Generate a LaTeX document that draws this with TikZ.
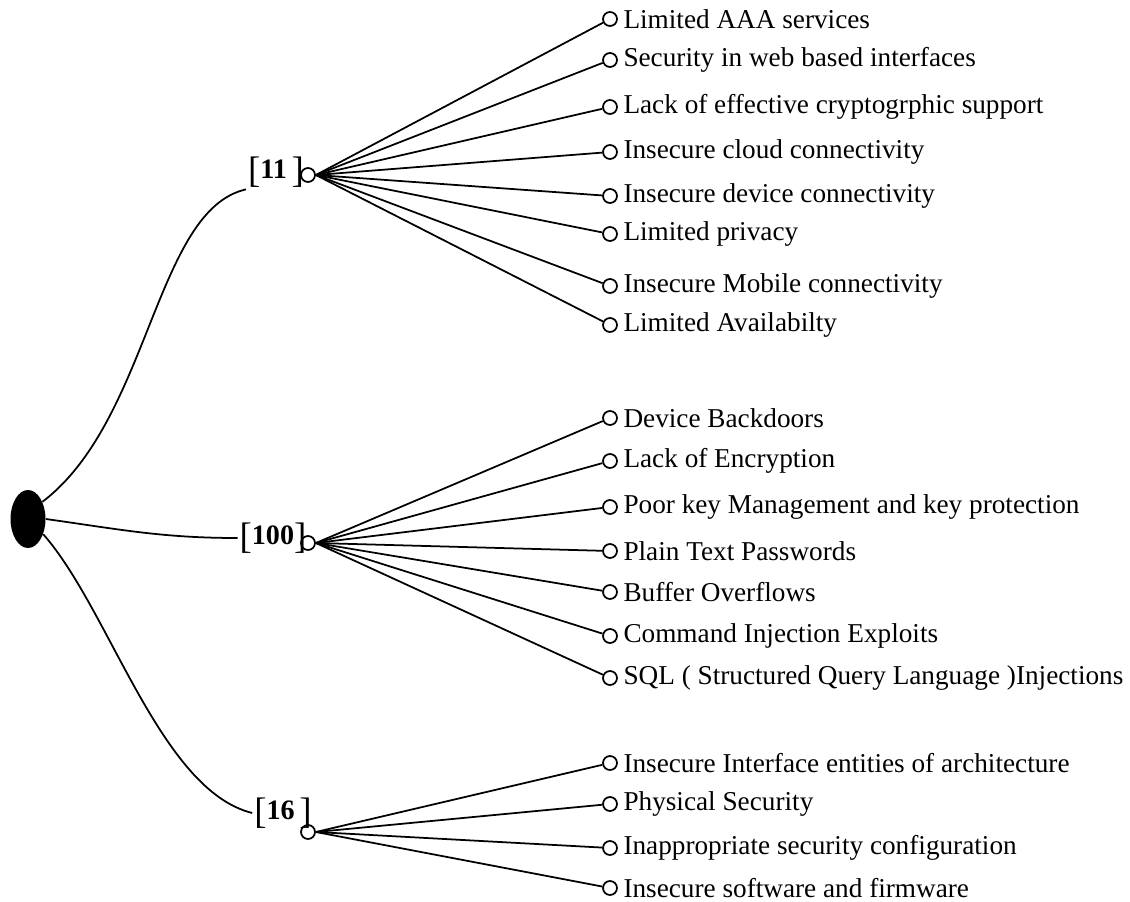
\documentclass[tikz,border=0pt]{standalone}
\usepackage{fontspec}
\setmainfont{Liberation Serif}
\usetikzlibrary{shapes.geometric, positioning}
\newcommand{\bigbr}[1]{\raisebox{-2pt}{\fontsize{21}{21}\selectfont#1}}
\tikzset{leaf/.style={circle, draw=black, fill=white, line width=1pt, inner sep=0pt, minimum size=0.28cm},
    hub/.style={circle, draw=black, fill=white, line width=1pt, inner sep=0pt, minimum size=0.28cm},
    tag/.style={inner sep=1pt, font=\fontsize{16}{18}\selectfont},
    twig/.style={line width=1pt}}

\begin{document}
\begin{tikzpicture}[x=0.02cm, y=-0.02cm, font=\fontsize{15.5}{18}\selectfont]
                 \useasboundingbox (0,0) rectangle (1130,902);
                 \node[ellipse, fill=black, minimum width=0.7cm, minimum height=1.16cm, inner sep=0pt](root) at (28,519){};
                 \node[hub](h11) at (308,175){};
                 \node[hub](h100) at (308,543){};
                 \node[hub](h16) at (308,832){};
                 \node[tag](t11) at (276,172){\bigbr{[}\textbf{11}\,\bigbr{]}};
                 \node[tag](t100) at (273,538){\bigbr{[}\textbf{100}\bigbr{]}};
                 \node[tag](t16) at (283,813){\bigbr{[}\textbf{16}\,\bigbr{]}};
                 \draw[twig](root.50) .. controls (150,420) and (155,210) .. (t11.south west);
                 \draw[twig](root.east) to[out=-8,in=180] (t100.west);
                 \draw[twig](root.-45) .. controls (110,610) and (160,790) .. (t16.west);
                 \foreach \y/\txt [count=\i] in {19/Limited AAA services, 60/Security in web based interfaces,
                     107/Lack of effective cryptogrphic support, 152/Insecure cloud connectivity,
                     196/Insecure device connectivity, 234/Limited privacy,
                     286/Insecure Mobile connectivity, 325/Limited Availabilty}{
                     \node[leaf, label={[inner sep=3pt]right:{\txt}}](a\i) at (610,\y){};
                     \draw[twig](h11.east)--(a\i);
                 }
                 \foreach \y/\txt [count=\i] in {418/Device Backdoors, 461/Lack of Encryption,
                     507/Poor key Management and key protection, 551/Plain Text Passwords,
                     592/Buffer Overflows, 636/Command Injection Exploits,
                     678/SQL ( Structured Query Language )Injections}{
                     \node[leaf, label={[inner sep=3pt]right:{\txt}}](b\i) at (610,\y){};
                     \draw[twig](h100.east)--(b\i);
                 }
                 \foreach \y/\txt [count=\i] in {763/Insecure Interface entities of architecture,
                     804/Physical Security, 848/Inappropriate security configuration,
                     888/Insecure software and firmware}{
                     \node[leaf, label={[inner sep=3pt]right:{\txt}}](c\i) at (610,\y){};
                     \draw[twig](h16.east)--(c\i);
                 }
             \end{tikzpicture}
\end{document}
